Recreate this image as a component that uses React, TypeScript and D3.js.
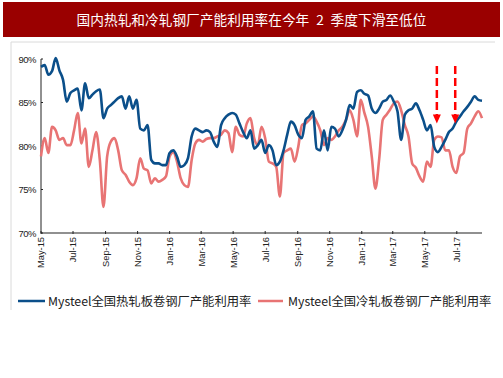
import React from "react";
import * as d3 from "d3";

const title = "国内热轧和冷轧钢厂产能利用率在今年\u20022\u2002季度下滑至低位";
const seriesNames = ["Mysteel全国热轧板卷钢厂产能利用率", "Mysteel全国冷轧板卷钢厂产能利用率"];
const startDate = "2015-05-01";
const endDate = "2017-08-18";
const yTicks = [70, 75, 80, 85, 90];
const xTickDates = [
  "2015-05-01", "2015-07-01", "2015-09-01", "2015-11-01",
  "2016-01-01", "2016-03-01", "2016-05-01", "2016-07-01", "2016-09-01", "2016-11-01",
  "2017-01-01", "2017-03-01", "2017-05-01", "2017-07-01",
];

// weekly values (hot rolled)
const hotRolled = [
  89.1, 89.3, 88.2, 88.6, 90.1, 88.7, 87.6, 85.1, 86.1, 86.4,
  86.6, 84.1, 87.2, 85.5, 85.9, 86.3, 86.5, 83.2, 84.3, 84.7,
  85.1, 85.5, 85.7, 84.3, 85.7, 84.3, 85.3, 82.0, 81.8, 82.4,
  78.4, 78.0, 78.0, 77.8, 77.8, 79.2, 79.5, 78.8, 77.6, 77.8,
  78.6, 81.1, 82.0, 81.8, 81.6, 81.8, 81.6, 80.5, 79.9, 82.4,
  83.2, 83.6, 83.8, 83.6, 82.6, 81.6, 80.9, 81.8, 79.7, 80.1,
  80.7, 79.2, 80.1, 79.5, 77.8, 78.2, 79.5, 81.3, 82.8, 82.4,
  81.3, 80.9, 83.0, 83.4, 84.0, 79.7, 79.5, 81.8, 79.5, 82.2,
  82.0, 81.1, 81.8, 83.0, 84.7, 84.3, 86.2, 86.4, 86.0, 85.8,
  84.3, 83.8, 84.3, 85.1, 85.3, 85.8, 85.1, 84.0, 80.7, 83.6,
  84.1, 84.3, 84.9, 84.1, 83.0, 81.8, 82.4, 79.9, 79.3, 79.9,
  80.7, 81.6, 82.0, 82.8, 83.4, 84.0, 84.5, 85.1, 85.7, 85.3,
  85.2,
];

// weekly values (cold rolled)
const coldRolled = [
  78.8, 80.9, 79.2, 82.2, 81.8, 80.7, 80.9, 80.1, 80.1, 81.8,
  83.8, 80.3, 82.0, 77.6, 79.5, 81.6, 78.4, 73.0, 78.8, 80.5,
  80.9, 79.5, 77.2, 76.7, 75.9, 75.5, 76.3, 78.6, 77.4, 77.2,
  75.7, 76.3, 75.9, 76.1, 76.5, 78.8, 79.3, 78.2, 76.3, 75.5,
  75.3, 78.4, 80.3, 80.7, 80.5, 80.8, 80.9, 80.9, 81.1, 81.3,
  81.8, 81.5, 79.3, 82.2, 81.3, 81.1, 82.6, 83.2, 80.9, 80.1,
  82.2, 80.9, 78.2, 78.0, 77.6, 74.2, 79.2, 79.5, 79.7, 78.2,
  79.9, 82.4, 82.6, 83.0, 83.4, 82.8, 81.8, 80.1, 80.9, 80.7,
  81.1, 81.8, 82.2, 83.0, 84.1, 83.0, 81.1, 85.3, 83.8, 82.2,
  78.8, 75.1, 78.4, 83.0, 83.6, 84.2, 84.9, 85.1, 84.1, 82.4,
  81.1, 78.0, 77.5, 76.5, 75.9, 78.2, 77.6, 80.7, 81.1, 81.0,
  79.5, 79.5, 77.6, 76.9, 78.8, 79.2, 82.0, 82.6, 83.4, 84.0,
  83.2,
];

// annotation arrows: date, top value, tip value
const arrowDates = ["2017-05-24", "2017-06-28"];
const arrowTop = 89.2;
const arrowTip = 82.6;

const W = 503;
const H = 378;
const colors = ["#0B4F8A", "#E87474"];

export default function App() {
  const parse = d3.timeParse("%Y-%m-%d");
  const start = parse(startDate)!;
  const dates = hotRolled.map((_, i) => d3.timeDay.offset(start, i * 7));
  const x = d3.scaleTime().domain([start, parse(endDate)!]).range([41, 482]);
  const y = d3.scaleLinear().domain([70, 90]).range([233, 59]);
  const fmt = d3.timeFormat("%b-%y");

  const line = d3
    .line<number>()
    .x((_, i) => x(dates[i]))
    .y((d) => y(d))
    .curve(d3.curveMonotoneX);

  const font = "'Liberation Sans', Arial, sans-serif";
  const cjk = "'Noto Sans CJK SC', 'Noto Sans', sans-serif";

  return (
    <svg width={W} height={H} style={{ position: "absolute", left: 0, top: 0, background: "#fff" }}>
      <rect x={3} y={2} width={497} height={35} fill="#9A0000" />
      <text x={251.5} y={25} textAnchor="middle" fill="#fff" fontSize={13.7} fontFamily={cjk} style={{ whiteSpace: "pre" }}>
        {title}
      </text>

      {/* panel border */}
      <line x1={11} y1={42} x2={495} y2={42} stroke="#DADADA" />
      <line x1={11} y1={42} x2={11} y2={310} stroke="#DADADA" />

      {/* y axis */}
      <line x1={41} y1={y(90)} x2={41} y2={y(70)} stroke="#222" strokeWidth={1} />
      {yTicks.map((t) => (
        <g key={t}>
          <line x1={41} x2={43} y1={y(t)} y2={y(t)} stroke="#222" />
          <text x={36} y={y(t) + 3.5} textAnchor="end" fontSize={9.5} fontFamily={font} letterSpacing={-0.5} fill="#222">
            {t}%
          </text>
        </g>
      ))}

      {/* x axis */}
      <line x1={41} y1={y(70)} x2={482} y2={y(70)} stroke="#222" strokeWidth={1.2} />
      {xTickDates.map((s) => {
        const d = parse(s)!;
        const px = x(d);
        return (
          <g key={s}>
            <line x1={px} x2={px} y1={y(70) - 2} y2={y(70) + 1} stroke="#222" />
            <text
              transform={`translate(${px + 3.4},${y(70) + 4}) rotate(-90)`}
              textAnchor="end"
              fontSize={9.3}
              fontFamily={font}
              fill="#222"
            >
              {fmt(d)}
            </text>
          </g>
        );
      })}

      {/* series */}
      <path d={line(coldRolled)!} fill="none" stroke={colors[1]} strokeWidth={2.6} strokeLinejoin="round" />
      <path d={line(hotRolled)!} fill="none" stroke={colors[0]} strokeWidth={2.6} strokeLinejoin="round" />

      {/* arrows */}
      {arrowDates.map((s) => {
        const px = x(parse(s)!);
        const y0 = y(arrowTop);
        const y1 = y(arrowTip);
        return (
          <g key={s}>
            <line x1={px} x2={px} y1={y0} y2={y1 - 8} stroke="#FF0000" strokeWidth={2.5} strokeDasharray="8 4" />
            <path d={`M${px - 4},${y1 - 9} L${px + 4},${y1 - 9} L${px},${y1} Z`} fill="#FF0000" />
          </g>
        );
      })}

      {/* legend */}
      <line x1={18} x2={45} y1={301} y2={301} stroke={colors[0]} strokeWidth={2.5} />
      <text x={48} y={305.5} fontSize={12.3} fontFamily={cjk} fill="#222">
        {seriesNames[0]}
      </text>
      <line x1={258} x2={283} y1={301} y2={301} stroke={colors[1]} strokeWidth={2.5} />
      <text x={288} y={305.5} fontSize={12.3} fontFamily={cjk} fill="#222">
        {seriesNames[1]}
      </text>
    </svg>
  );
}
